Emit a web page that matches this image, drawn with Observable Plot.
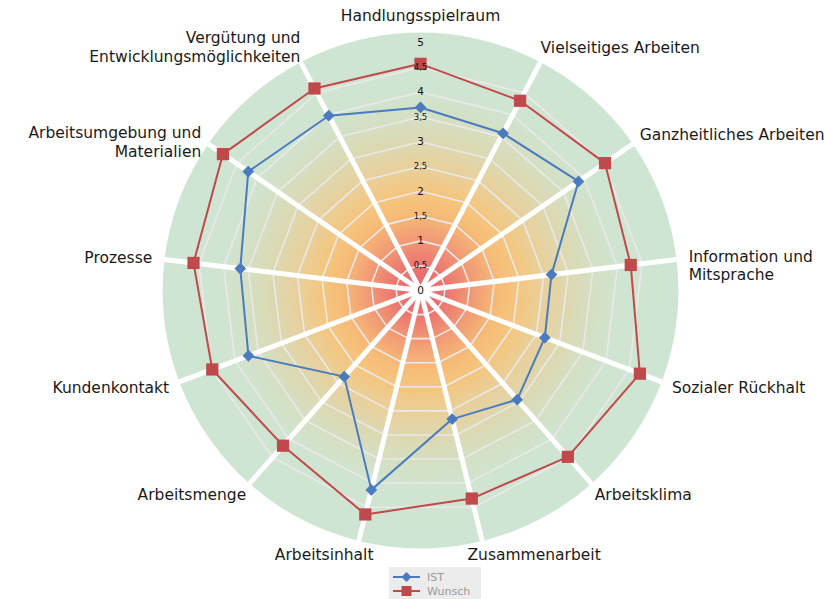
<!DOCTYPE html>
<html><head><meta charset="utf-8">
<script src="https://cdn.jsdelivr.net/npm/d3@7"></script>
<script src="https://cdn.jsdelivr.net/npm/@observablehq/plot@0.6"></script>
<style>
body{margin:0;background:#fff;font-family:"DejaVu Sans",sans-serif;position:relative;width:824px;height:599px;overflow:hidden}
#legend{position:absolute;left:389px;top:567px;width:92px;height:32px;background:#ececec;color:#9a9a9a;font:11px "DejaVu Sans",sans-serif}
#legend .row{position:absolute;left:4px;height:14px;display:flex;align-items:center}
#legend svg{margin-right:7px}
</style>
</head><body>
<div id="chart"></div>
<div id="legend"></div>
<script>
// ---- data ----
const categories = [
  "Handlungsspielraum",
  "Vielseitiges Arbeiten",
  "Ganzheitliches Arbeiten",
  "Information und\nMitsprache",
  "Sozialer Rückhalt",
  "Arbeitsklima",
  "Zusammenarbeit",
  "Arbeitsinhalt",
  "Arbeitsmenge",
  "Kundenkontakt",
  "Prozesse",
  "Arbeitsumgebung und\nMaterialien",
  "Vergütung und\nEntwicklungsmöglichkeiten"
];
const ist    = [3.69, 3.58, 3.87, 2.66, 2.68, 2.94, 2.67, 4.14, 2.32, 3.71, 3.66, 4.22, 3.98];
const wunsch = [4.57, 4.32, 4.52, 4.27, 4.73, 4.48, 4.32, 4.65, 4.18, 4.49, 4.61, 4.84, 4.60];
const seriesNames = ["IST", "Wunsch"];
const tickValues = [0, 0.5, 1, 1.5, 2, 2.5, 3, 3.5, 4, 4.5, 5];
const gridLevels = [0.5, 1, 1.5, 2, 2.5, 3, 3.5, 4, 4.5];

// ---- layout ----
const W = 824, H = 560, cx = 420, cy = 290, unit = 49.6;
const discR = 5.2;
const n = categories.length;
const ang = i => 2 * Math.PI * i / n;
const px = (i, v) => Math.sin(ang(i)) * v;
const py = (i, v) => Math.cos(ang(i)) * v;
const colors = {IST: "#4a7bbf", Wunsch: "#c0494b"};

const seriesData = [];
seriesNames.forEach((s, k) => {
  const vals = k === 0 ? ist : wunsch;
  vals.forEach((v, i) => seriesData.push({series: s, i, v, x: px(i, v), y: py(i, v)}));
});

const grid = [];
gridLevels.forEach(l => categories.forEach((c, i) => grid.push({l, x: px(i, l), y: py(i, l)})));

const spokes = categories.map((c, i) => ({i, x2: px(i, discR), y2: py(i, discR)})).filter(d => d.i !== 0);

const labels = categories.map((c, i) => {
  const s = Math.sin(ang(i)), co = Math.cos(ang(i));
  const anchor = Math.abs(s) < 0.05 ? "middle" : (s > 0 ? "start" : "end");
  const rx = (co < -0.8) ? 3.96 : 5.0 + 0.45 * Math.abs(s);
  const ry = co > 0 ? 5.55 : 5.47;
  const multi = c.includes("\n");
  return {text: c, x: s * rx, y: co * ry, anchor, side: multi && Math.abs(co) < 0.7};
});

const fmt = v => String(v).replace(".", ",");

const defs = () => {
  const d = d3.create("svg:defs");
  const g = d.append("radialGradient").attr("id", "bg").attr("cx", "50%").attr("cy", "50%").attr("r", "50%");
  [[0, "#e9636c"], [0.1, "#ec7570"], [0.2, "#f19a75"], [0.3, "#f6bb77"], [0.38, "#f4c67f"],
   [0.48, "#e8d09c"], [0.58, "#dcd9b2"], [0.68, "#d4e0c5"], [0.78, "#cfe5d2"], [1, "#cfe5d3"]]
    .forEach(([o, c]) => g.append("stop").attr("offset", o).attr("stop-color", c));
  return d.node();
};

const labelStyle = {x: "x", y: "y", text: "text", fontSize: 15.5, fill: "#1a1a1a", lineHeight: 1.2};
const labelMarks = [];
for (const a of ["start", "middle", "end"]) {
  for (const side of [false, true]) {
    const sub = labels.filter(d => d.anchor === a && d.side === side);
    if (sub.length) labelMarks.push(Plot.text(sub, {...labelStyle, textAnchor: a,
      lineAnchor: side ? "top" : "middle", dy: side ? -9 : 0}));
  }
}

const chart = Plot.plot({
  width: W, height: H,
  margin: 0,
  x: {domain: [-cx / unit, (W - cx) / unit], range: [0, W], axis: null},
  y: {domain: [-(H - cy) / unit, cy / unit], range: [H, 0], axis: null},
  style: {fontFamily: "DejaVu Sans, sans-serif", background: "transparent", overflow: "visible"},
  marks: [
    defs,
    Plot.dot([{x: 0, y: 0}], {x: "x", y: "y", r: discR * unit, fill: "url(#bg)", stroke: "none"}),
    Plot.line(grid, {x: "x", y: "y", z: "l", curve: "linear-closed", stroke: "#e9e9e9", strokeWidth: 1.6}),
    Plot.link(spokes, {x1: 0, y1: 0, x2: "x2", y2: "y2", stroke: "white", strokeWidth: 5}),
    Plot.line(seriesData, {x: "x", y: "y", z: "series", curve: "linear-closed",
      stroke: d => colors[d.series], strokeWidth: 2}),
    Plot.dot(seriesData.filter(d => d.series === "IST"), {x: "x", y: "y", symbol: "diamond2", r: 5.3, fill: colors.IST}),
    Plot.dot(seriesData.filter(d => d.series === "Wunsch"), {x: "x", y: "y", symbol: "square", r: 6.9, fill: colors.Wunsch}),
    Plot.text(tickValues, {x: 0, y: d => d, text: fmt, fill: "#111",
      fontSize: d => Number.isInteger(d) ? 10.5 : 8.5}),
    ...labelMarks
  ]
});
document.getElementById("chart").append(chart);

// legend
const leg = document.getElementById("legend");
seriesNames.forEach((s, k) => {
  const row = document.createElement("div");
  row.className = "row";
  row.style.top = (k === 0 ? 3 : 17) + "px";
  const sym = k === 0
    ? `<rect x="10" y="2.5" width="7" height="7" transform="rotate(45 13.5 6)" fill="${colors[s]}"/>`
    : `<rect x="8.5" y="1" width="10" height="10" fill="${colors[s]}"/>`;
  row.innerHTML = `<svg width="27" height="12"><line x1="0" x2="27" y1="6" y2="6" stroke="${colors[s]}" stroke-width="2"/>${sym}</svg><span>${s}</span>`;
  leg.append(row);
});
</script>
</body></html>
